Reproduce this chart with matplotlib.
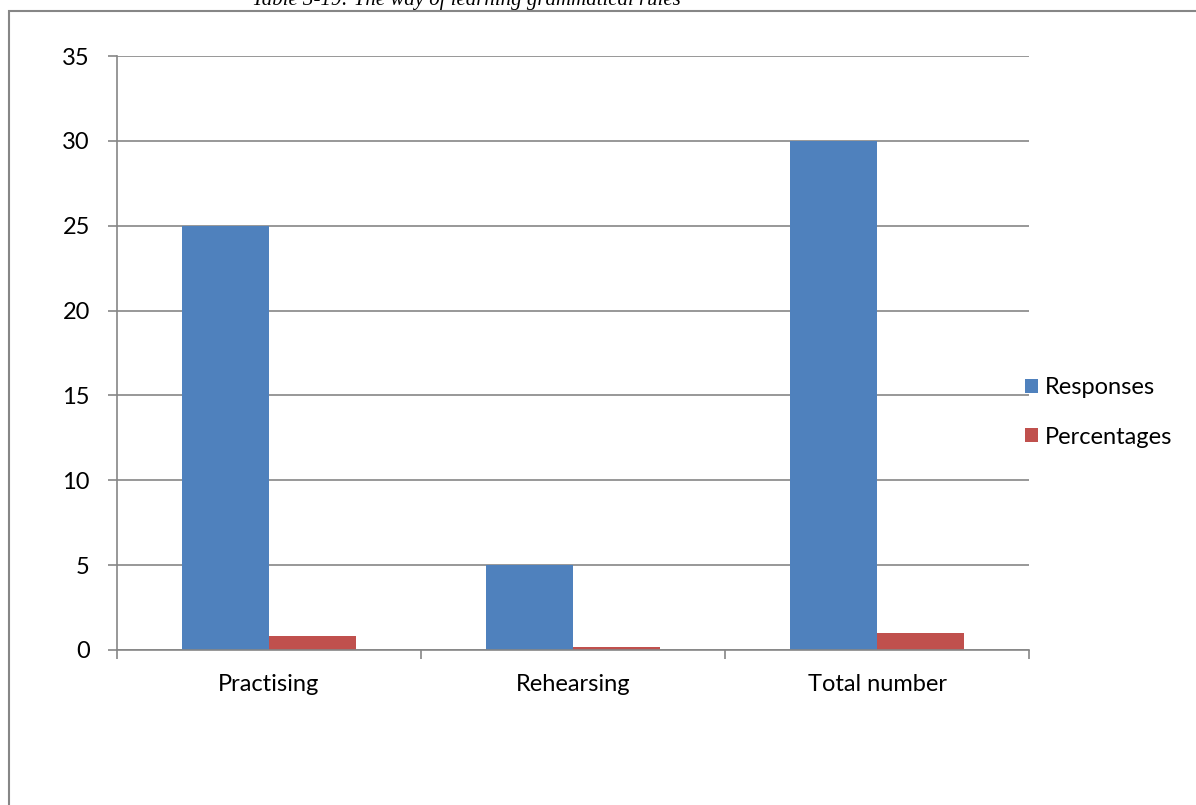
import matplotlib.pyplot as plt
import numpy as np
from matplotlib.patches import Rectangle

# chart data
categories = ["Practising", "Rehearsing", "Total number"]
responses = [25, 5, 30]
percentages = [0.83, 0.17, 1.0]
series_names = ["Responses", "Percentages"]
colors = ["#4F81BD", "#C0504D"]
title = "Table 3-19: The way of learning grammatical rules"

W, H = 1196, 805
fig = plt.figure(figsize=(W / 100, H / 100), dpi=100)
fig.patch.set_facecolor("white")

# outer chart frame (runs off the right and bottom edges)
fig.patches.append(Rectangle((9 / W, -0.1), 1.2, 1 - 11 / H + 0.1,
                             transform=fig.transFigure, fill=False,
                             edgecolor="#868686", linewidth=1.5, clip_on=False))

# title, partly cut by the top edge
fig.text(466 / W, 1 - 5 / H, title, ha="center", va="baseline",
         fontsize=15, family="Liberation Serif", fontstyle="italic")

ax = fig.add_axes([117 / W, 1 - 650 / H, (1029 - 117) / W, (650 - 56) / H])

x = np.arange(len(categories))
bw = 0.286
ax.bar(x - bw / 2, responses, bw, color=colors[0], label=series_names[0])
ax.bar(x + bw / 2, percentages, bw, color=colors[1], label=series_names[1])

ax.set_xlim(-0.5, len(categories) - 0.5)
ax.set_ylim(0, 35)
ax.set_yticks(range(0, 36, 5))
ax.yaxis.grid(True, color="#868686", linewidth=1.2)
ax.set_axisbelow(True)

ax.set_xticks(x)
ax.set_xticklabels(categories)
ax.set_xticks(np.arange(-0.5, len(categories)), minor=True)
ax.tick_params(axis="x", which="major", length=0, pad=17)
ax.tick_params(axis="x", which="minor", length=6.5, color="#868686", width=1.2)
ax.tick_params(axis="y", length=6.5, color="#868686", width=1.2, pad=13)

for lab in ax.get_xticklabels() + ax.get_yticklabels():
    lab.set_fontsize(17)
    lab.set_family("Lato")

for side in ["top", "right"]:
    ax.spines[side].set_visible(False)
for side in ["left", "bottom"]:
    ax.spines[side].set_color("#868686")
    ax.spines[side].set_linewidth(1.2)

leg = ax.legend(loc="center left", bbox_to_anchor=(0.983, 0.40), frameon=False,
                prop={"family": "Lato", "size": 17}, handlelength=0.55,
                handleheight=0.55, handletextpad=0.3, labelspacing=1.2,
                borderpad=0.0)

fig.savefig("out.png", dpi=100)
